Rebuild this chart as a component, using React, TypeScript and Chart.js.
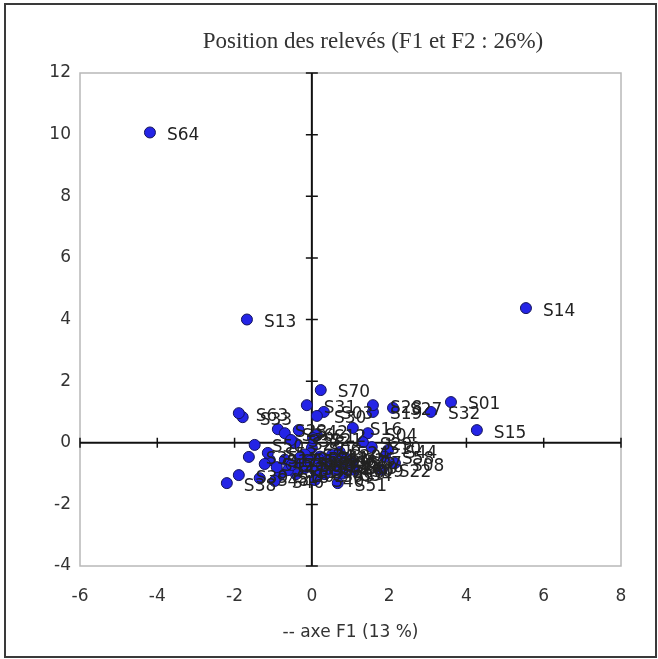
import React, { useEffect, useRef } from "react";
import { Chart, registerables } from "chart.js";

Chart.register(...registerables);

const chartTitle = "Position des relevés (F1 et F2 : 26%)";
const xAxisTitle = "-- axe F1 (13 %)";

const pointLabels = [
  "S01","S02","S03","S04","S05","S06","S07","S08","S09","S10",
  "S11","S12","S13","S14","S15","S16","S17","S18","S19","S20",
  "S21","S22","S23","S24","S25","S26","S27","S28","S29","S30",
  "S31","S32","S33","S34","S35","S36","S37","S38","S39","S40",
  "S41","S42","S43","S44","S45","S46","S47","S48","S49","S50",
  "S51","S52","S53","S54","S55","S56","S57","S58","S59","S60",
  "S61","S62","S63","S64","S65","S66","S67","S68","S69","S70",
];

const f1Values = [
  3.60, -0.41, 0.31, 1.45, 0.34, 0.00, 1.05, 2.15, 1.10, 1.55,
  -0.62, 0.13, -1.68, 5.54, 4.27, 1.06, -1.09, -0.83, 1.58, 0.52,
  0.03, 1.81, -0.88, 0.72, 0.90, -0.44, 2.10, 1.58, 1.32, 0.13,
  -0.13, 3.08, -1.79, -0.18, -1.63, -0.70, -0.54, -2.20, -1.89, 0.08,
  0.21, -0.34, 0.54, 1.97, -1.22, -0.96, -0.91, -1.35, -0.31, -1.48,
  0.67, 0.08, -1.14, 0.80, -0.70, -0.52, -0.31, 1.89, -0.18, -0.05,
  0.16, 0.26, -1.89, -4.19, 0.41, 0.60, 0.72, 0.85, 0.95, 0.23,
];

const f2Values = [
  1.32, -1.02, 1.00, 0.31, -1.02, -0.17, -0.62, -0.66, -0.88, -0.14,
  -0.89, 0.25, 4.00, 4.37, 0.41, 0.48, -0.56, -1.05, 1.00, -0.40,
  0.15, -0.88, 0.44, -0.30, -0.52, -0.01, 1.13, 1.22, 0.02, 0.87,
  1.22, 1.00, 0.83, -0.38, -0.46, 0.31, 0.09, -1.31, -1.05, -1.21,
  -0.45, 0.41, -0.70, -0.24, -0.69, -1.24, -0.79, -1.15, -0.63, -0.07,
  -1.31, -0.89, -0.33, -1.00, -0.55, -0.72, -0.48, -0.46, -0.82, -0.60,
  -0.52, -0.76, 0.96, 10.07, -0.58, -0.89, -0.62, -0.80, -0.76, 1.71,
];

const xRange = [-6, 8];
const yRange = [-4, 12];
const tickStep = 2;

const frameAndAxes = {
  id: "frameAndAxes",
  beforeDraw(chart: any) {
    const { ctx, width, height } = chart;
    ctx.save();
    ctx.fillStyle = "#ffffff";
    ctx.fillRect(0, 0, width, height);
    ctx.strokeStyle = "#3a3a3a";
    ctx.lineWidth = 2;
    ctx.strokeRect(5, 4, width - 7, height - 6);
    ctx.restore();
  },
  beforeDatasetsDraw(chart: any) {
    const { ctx, chartArea: a, scales } = chart;
    const x = scales.x;
    const y = scales.y;
    ctx.save();
    ctx.strokeStyle = "#b8b8b8";
    ctx.lineWidth = 1.5;
    ctx.strokeRect(a.left, a.top, a.right - a.left, a.bottom - a.top);
    const x0 = x.getPixelForValue(0);
    const y0 = y.getPixelForValue(0);
    ctx.strokeStyle = "#111111";
    ctx.lineWidth = 2;
    ctx.beginPath();
    ctx.moveTo(a.left, y0);
    ctx.lineTo(a.right, y0);
    ctx.moveTo(x0, a.top);
    ctx.lineTo(x0, a.bottom);
    ctx.stroke();
    ctx.lineWidth = 1.5;
    ctx.beginPath();
    x.ticks.forEach((t: any) => {
      const px = x.getPixelForValue(t.value);
      ctx.moveTo(px, y0 - 5);
      ctx.lineTo(px, y0 + 5);
    });
    y.ticks.forEach((t: any) => {
      const py = y.getPixelForValue(t.value);
      ctx.moveTo(x0 - 6, py);
      ctx.lineTo(x0 + 6, py);
    });
    ctx.stroke();
    ctx.restore();
  },
  afterDatasetsDraw(chart: any) {
    const { ctx } = chart;
    const meta = chart.getDatasetMeta(0);
    ctx.save();
    ctx.font = "17px 'DejaVu Sans'";
    ctx.fillStyle = "#222222";
    ctx.textAlign = "left";
    ctx.textBaseline = "middle";
    meta.data.forEach((el: any, i: number) => {
      ctx.fillText(pointLabels[i], el.x + 17, el.y + 3);
    });
    ctx.restore();
  },
  afterDraw(chart: any) {
    const { ctx } = chart;
    ctx.save();
    ctx.font = "23px 'Liberation Serif'";
    ctx.fillStyle = "#333333";
    ctx.textAlign = "center";
    ctx.textBaseline = "middle";
    ctx.fillText(chartTitle, 373, 42);
    ctx.restore();
  },
};

export default function App() {
  const canvasRef = useRef<HTMLCanvasElement | null>(null);

  useEffect(() => {
    const canvas = canvasRef.current;
    if (!canvas) return;
    const data = f1Values.map((v, i) => ({ x: v, y: f2Values[i] }));
    const chart = new Chart(canvas, {
      type: "scatter",
      data: {
        datasets: [
          {
            label: "Relevés",
            data,
            pointRadius: 5.5,
            pointHoverRadius: 5.5,
            backgroundColor: "#2424e6",
            borderColor: "#14145a",
            borderWidth: 1,
          },
        ],
      },
      options: {
        responsive: false,
        animation: false,
        events: [],
        layout: { padding: { top: 73, right: 37, left: 0, bottom: 0 } },
        plugins: {
          legend: { display: false },
          title: { display: false },
          tooltip: { enabled: false },
        },
        scales: {
          x: {
            type: "linear",
            min: xRange[0],
            max: xRange[1],
            afterFit: (s: any) => {
              s.height = 93;
            },
            ticks: {
              stepSize: tickStep,
              padding: 20,
              color: "#333333",
              font: { family: "'DejaVu Sans'", size: 17 },
            },
            grid: { display: false, drawTicks: false },
            border: { display: false },
            title: {
              display: true,
              text: xAxisTitle,
              color: "#333333",
              font: { family: "'DejaVu Sans'", size: 17 },
              padding: { top: 0, bottom: 16 },
            },
          },
          y: {
            type: "linear",
            min: yRange[0],
            max: yRange[1],
            afterFit: (s: any) => {
              s.width = 80;
            },
            ticks: {
              stepSize: tickStep,
              padding: 9,
              color: "#333333",
              font: { family: "'DejaVu Sans'", size: 17 },
            },
            grid: { display: false, drawTicks: false },
            border: { display: false },
          },
        },
      },
      plugins: [frameAndAxes],
    });
    return () => chart.destroy();
  }, []);

  return (
    <div style={{ position: "absolute", left: 0, top: 0, width: 658, height: 659 }}>
      <canvas ref={canvasRef} width={658} height={659} />
    </div>
  );
}
